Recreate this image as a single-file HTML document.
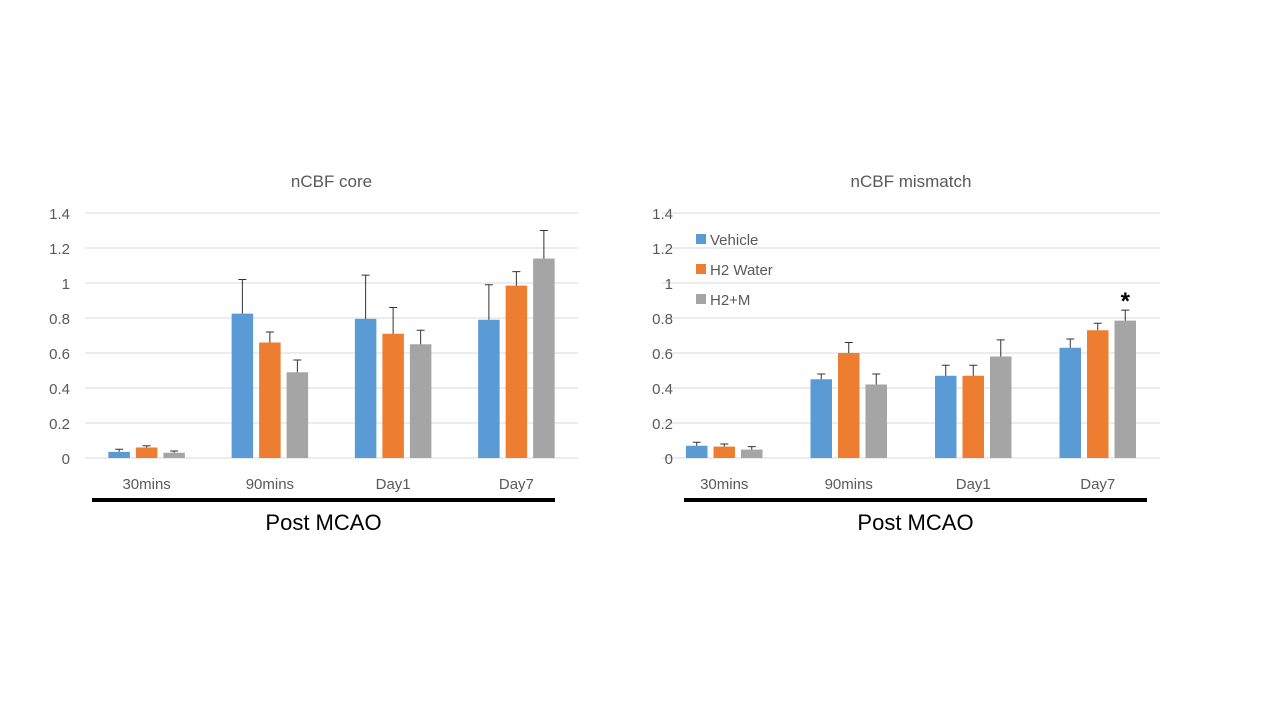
<!DOCTYPE html>
<html><head><meta charset="utf-8"><style>
body{margin:0;background:#fff;width:1280px;height:720px;overflow:hidden}
svg{font-family:"Liberation Sans",sans-serif}
</style></head><body>
<svg id="c" width="1280" height="720"></svg>
<script>
const categories=["30mins","90mins","Day1","Day7"];
const seriesNames=["Vehicle","H2 Water","H2+M"];
const colors=["#5b9bd5","#ed7d31","#a5a5a5"];
const yTicks=[0,0.2,0.4,0.6,0.8,1,1.2,1.4];
const yTickLabels=["0","0.2","0.4","0.6","0.8","1","1.2","1.4"];
const coreVehicle=[0.035,0.825,0.795,0.79];
const coreWater=[0.06,0.66,0.71,0.985];
const coreHM=[0.03,0.49,0.65,1.14];
const coreVehicleErr=[0.015,0.195,0.25,0.2];
const coreWaterErr=[0.01,0.06,0.15,0.08];
const coreHMErr=[0.01,0.07,0.08,0.16];
const misVehicle=[0.07,0.45,0.47,0.63];
const misWater=[0.065,0.60,0.47,0.73];
const misHM=[0.048,0.42,0.58,0.785];
const misVehicleErr=[0.02,0.03,0.06,0.05];
const misWaterErr=[0.015,0.06,0.06,0.04];
const misHMErr=[0.017,0.06,0.095,0.06];

const svg=document.getElementById('c');
const NS="http://www.w3.org/2000/svg";
function mk(tag,attrs,parent,text){const e=document.createElementNS(NS,tag);for(const k in attrs)e.setAttribute(k,attrs[k]);if(text!==undefined)e.textContent=text;(parent||svg).appendChild(e);return e;}

function chart(cfg){
  const g=mk('g',{});
  
  
  const y0=458,yTop=213,x0=cfg.x0,x1=cfg.x1;
  const yS=v=>y0-(v/1.4)*(y0-yTop);
  const band=(x1-x0)/categories.length;
  const xC=i=>x0+band*(i+0.5);
  const t=mk('text',{x:(x0+x1)/2,y:187,'text-anchor':'middle','font-size':17,fill:'#595959'},g,cfg.title);
  
  
  yTicks.forEach((v,i)=>{
    const l=mk('line',{x1:x0,x2:x1,y1:yS(v),y2:yS(v),stroke:'#d9d9d9','stroke-width':1},g);
    
    
    const tl=mk('text',{x:cfg.labelX,y:yS(v)+6,'text-anchor':'end','font-size':15,fill:'#595959'},g,yTickLabels[i]);
    
    
  });
  const bw=21.5,step=27.5;
  cfg.series.forEach((vals,s)=>{
    vals.forEach((v,i)=>{
      const cx=xC(i)+(s-1)*step;
      const r=mk('rect',{x:cx-bw/2,y:yS(v),width:bw,height:y0-yS(v),fill:colors[s]},g);
      
      
      const e=cfg.errs[s][i],top=yS(v+e);
      const el=mk('path',{d:`M${cx} ${yS(v)}V${top}M${cx-4} ${top}H${cx+4}`,stroke:'#333','stroke-width':1,fill:'none'},g);
      
      
    });
  });
  categories.forEach((c,i)=>{
    const ct=mk('text',{x:xC(i),y:489,'text-anchor':'middle','font-size':15,fill:'#595959'},g,c);
    
    
  });
  const bl=mk('rect',{x:cfg.lineX0,y:498,width:cfg.lineX1-cfg.lineX0,height:4,fill:'#000'},g);
  
  
  const xt=mk('text',{x:(cfg.lineX0+cfg.lineX1)/2,y:530,'text-anchor':'middle','font-size':22,fill:'#000'},g,'Post MCAO');
  
  
  return {g,yS,xC,step};
}
chart({name:'ncbf-core-chart',title:'nCBF core',x0:85,x1:578,labelX:70,lineX0:92,lineX1:555,
  series:[coreVehicle,coreWater,coreHM],errs:[coreVehicleErr,coreWaterErr,coreHMErr]});
const r=chart({name:'ncbf-mismatch-chart',title:'nCBF mismatch',x0:662,x1:1160,labelX:673,lineX0:684,lineX1:1147,
  series:[misVehicle,misWater,misHM],errs:[misVehicleErr,misWaterErr,misHMErr]});
const ast=mk('text',{x:r.xC(3)+r.step,y:r.yS(misHM[3]+misHMErr[3])-1,'text-anchor':'middle','font-size':24,'font-weight':'bold',fill:'#000'},r.g,'*');


seriesNames.forEach((n,i)=>{
  const lg=mk('g',{},r.g);
  
  
  mk('rect',{x:696,y:234+i*30,width:10,height:10,fill:colors[i]},lg);
  mk('text',{x:710,y:245+i*30,'font-size':15,fill:'#595959'},lg,n);
});
</script>
</body></html>
